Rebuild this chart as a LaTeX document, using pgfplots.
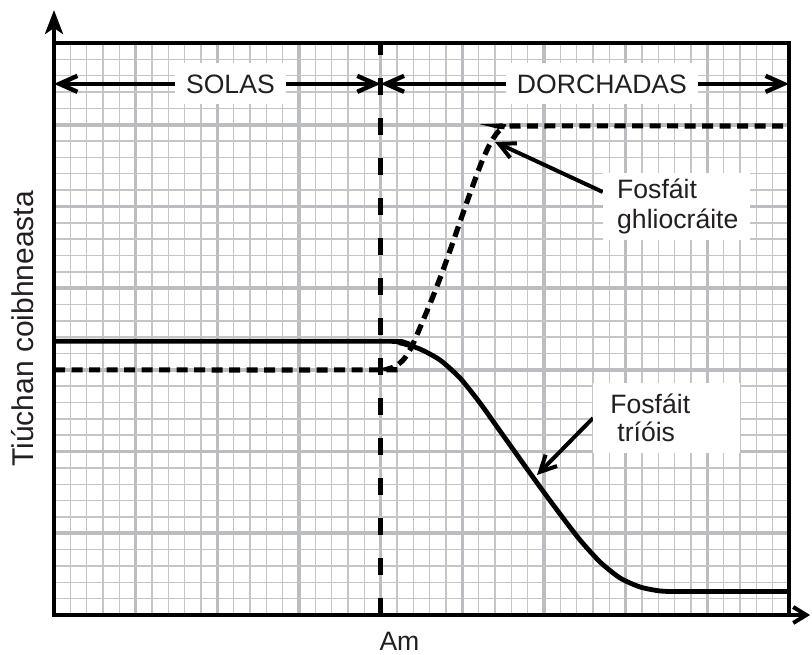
\documentclass[border=0pt]{standalone}
\usepackage{pgfplots}
\pgfplotsset{compat=1.18}
\usepackage{fontspec}
\setmainfont{Liberation Sans}
\usetikzlibrary{arrows.meta}
\definecolor{gridmaj}{RGB}{188,189,192}
\definecolor{gridmin}{RGB}{196,197,199}
\definecolor{txt}{RGB}{35,31,32}
\begin{document}
\begin{tikzpicture}[font=\fontsize{13.3}{15}\selectfont]
\begin{axis}[
  scale only axis, width=367.5pt, height=286pt,
  xmin=0, xmax=9, ymin=0, ymax=7,
  xtick={0,...,9}, ytick={0,...,7},
  minor x tick num=4, minor y tick num=4,
  xticklabels={}, yticklabels={},
  major tick length=0pt, minor tick length=0pt,
  grid=both,
  major grid style={line width=1.8pt, color=gridmaj},
  minor grid style={line width=0.75pt, color=gridmin},
  axis line style={line width=2pt, black},
  clip=false,
]
\coordinate (SW) at (rel axis cs:0,0);
\coordinate (NE) at (rel axis cs:1,1);
% Fosfait triois (solid)
\addplot[line width=2.4pt, black, smooth, tension=0.4] coordinates {
 (0,3.35) (4.0,3.35) (4.237,3.329) (4.481,3.255) (4.726,3.121) (4.971,2.901)
 (5.216,2.595) (5.461,2.252) (5.706,1.909) (5.951,1.567) (6.196,1.236)
 (6.441,0.918) (6.686,0.649) (6.931,0.453) (7.176,0.343) (7.421,0.294)
 (7.665,0.288) (9,0.288)};
% Fosfait ghliocraite (dashed)
\addplot[line width=2.6pt, black, dash pattern=on 5.5pt off 3.25pt, smooth, tension=0.4] coordinates {
 (0,3.0) (4.0,3.0) (4.090,3.011) (4.188,3.047) (4.286,3.133) (4.384,3.292)
 (4.506,3.574) (4.628,3.867) (4.751,4.186) (4.873,4.528) (4.996,4.883)
 (5.118,5.226) (5.228,5.520) (5.326,5.740) (5.424,5.899) (5.522,5.972)
 (5.645,5.985) (9,5.985)};
% divider
\addplot[line width=2.8pt, black, dash pattern=on 8.5pt off 11.5pt] coordinates {(4,0) (4,7)};
% axis arrows
\draw[line width=2pt, -{Stealth[length=12pt,width=9pt,inset=3pt]}] (rel axis cs:0,0.95) -- ++(0pt,30.8pt);
\draw[line width=2pt, -{Straight Barb[length=6.5pt,width=8pt]}] (rel axis cs:0.95,0) -- ++(28.9pt,0pt);
% period arrows
\draw[line width=2.2pt, {Straight Barb[length=9pt,width=8pt]}-{Straight Barb[length=9pt,width=8pt]}] (axis cs:0,6.5) -- (axis cs:4,6.5);
\draw[line width=2.2pt, {Straight Barb[length=9pt,width=8pt]}-{Straight Barb[length=9pt,width=8pt]}] (axis cs:4,6.5) -- (axis cs:9,6.5);
\node[fill=white, text=txt, inner xsep=5.5pt, inner ysep=5.5pt, text height=9.5pt, text depth=0pt] at (axis cs:2.16,6.5) {SOLAS};
\node[fill=white, text=txt, inner xsep=5.5pt, inner ysep=5.5pt, text height=9.5pt, text depth=0pt] at (axis cs:6.71,6.5) {DORCHADAS};
% callouts
\draw[line width=2pt, -{Straight Barb[length=8pt,width=8pt]}] (axis cs:6.72,5.177) -- (axis cs:5.40,5.789);
\draw[line width=2pt, -{Straight Barb[length=8pt,width=8pt]}] (axis cs:6.60,2.41) -- (axis cs:5.914,1.713);
\node[fill=white, text=txt, anchor=north west, inner xsep=7pt, inner ysep=3pt, text width=59.5pt, align=left] at (axis cs:6.72,5.42) {Fosfáit\\ghliocráite};
\node[fill=white, text=txt, anchor=north west, inner xsep=8.5pt, inner ysep=5.5pt, text width=56.5pt, align=left, font=\fontsize{13.3}{14}\selectfont] at (axis cs:6.60,2.84) {Fosfáit\\\hspace*{3.5pt}tríóis};
% axis labels
\node[text=txt, anchor=base] at ([yshift=-17.5pt]axis cs:4.23,0) {Am};
\node[text=txt, rotate=90, anchor=base, font=\fontsize{15}{17}\selectfont] at ([xshift=-10.5pt]rel axis cs:0,0.5) {Tiúchan coibhneasta};
\end{axis}
\pgfresetboundingbox
\path ([shift={(-27pt,-19.5pt)}]SW) rectangle ([shift={(11.5pt,21.5pt)}]NE);
\end{tikzpicture}
\end{document}
